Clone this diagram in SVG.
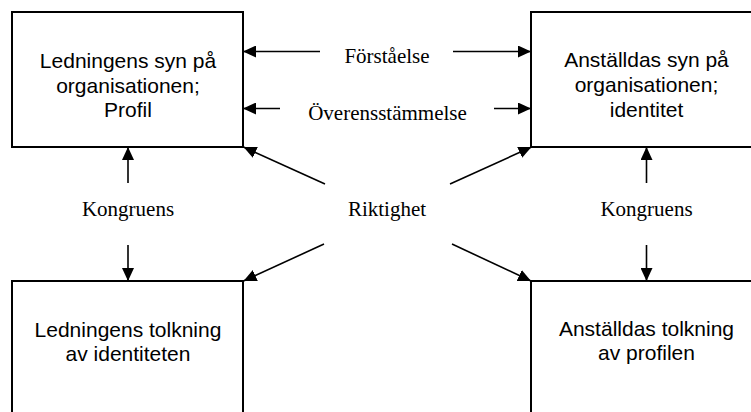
<svg xmlns="http://www.w3.org/2000/svg" width="751" height="412" viewBox="0 0 751 412">
<defs>
<marker id="ah" markerUnits="userSpaceOnUse" markerWidth="14" markerHeight="12" refX="13" refY="6" orient="auto">
<path d="M0,0 L13,6 L0,12 Z" fill="#000"/>
</marker>
<style>
.box{fill:#fff;stroke:#000;stroke-width:2}
.bt{font-family:"Liberation Sans",Arial,sans-serif;font-size:21px;fill:#000;text-anchor:middle}
.lb{font-family:"Liberation Serif","Times New Roman",serif;font-size:21px;fill:#000;text-anchor:middle}
.c{stroke:#000;stroke-width:1.6;fill:none;marker-end:url(#ah)}
</style>
</defs>
<rect width="751" height="412" fill="#fff"/>
<g id="n1">
<rect class="box" x="12" y="12" width="231" height="135"/>
<text class="bt" x="128" y="68">Ledningens syn på</text>
<text class="bt" x="128" y="92.5">organisationen;</text>
<text class="bt" x="128" y="117">Profil</text>
</g>
<g id="n2">
<rect class="box" x="531" y="12" width="231" height="135"/>
<text class="bt" x="646.5" y="67">Anställdas syn på</text>
<text class="bt" x="646.5" y="92">organisationen;</text>
<text class="bt" x="646.5" y="117">identitet</text>
</g>
<g id="n3">
<rect class="box" x="12" y="281" width="231" height="140"/>
<text class="bt" x="128" y="337">Ledningens tolkning</text>
<text class="bt" x="128" y="361">av identiteten</text>
</g>
<g id="n4">
<rect class="box" x="531" y="281" width="231" height="140"/>
<text class="bt" x="646.5" y="336">Anställdas tolkning</text>
<text class="bt" x="646.5" y="360">av profilen</text>
</g>
<g id="connectors">
<line class="c" x1="320" y1="51.5" x2="243" y2="51.5"/>
<line class="c" x1="453" y1="51.5" x2="531" y2="51.5"/>
<line class="c" x1="280" y1="108.5" x2="243" y2="108.5"/>
<line class="c" x1="494" y1="108.5" x2="531" y2="108.5"/>
<line class="c" x1="128" y1="183" x2="128" y2="147"/>
<line class="c" x1="128" y1="245" x2="128" y2="281"/>
<line class="c" x1="646.5" y1="183" x2="646.5" y2="147"/>
<line class="c" x1="646.5" y1="245" x2="646.5" y2="281"/>
<line class="c" x1="325" y1="184" x2="243.5" y2="147"/>
<line class="c" x1="450" y1="184" x2="531.5" y2="147"/>
<line class="c" x1="324" y1="244" x2="243.5" y2="281"/>
<line class="c" x1="452" y1="244" x2="531" y2="281"/>
</g>
<g id="labels">
<text class="lb" x="387" y="63">Förståelse</text>
<text class="lb" x="387.5" y="119.5">Överensstämmelse</text>
<text class="lb" x="128" y="216">Kongruens</text>
<text class="lb" x="646.5" y="216">Kongruens</text>
<text class="lb" x="387" y="216">Riktighet</text>
</g>
</svg>
